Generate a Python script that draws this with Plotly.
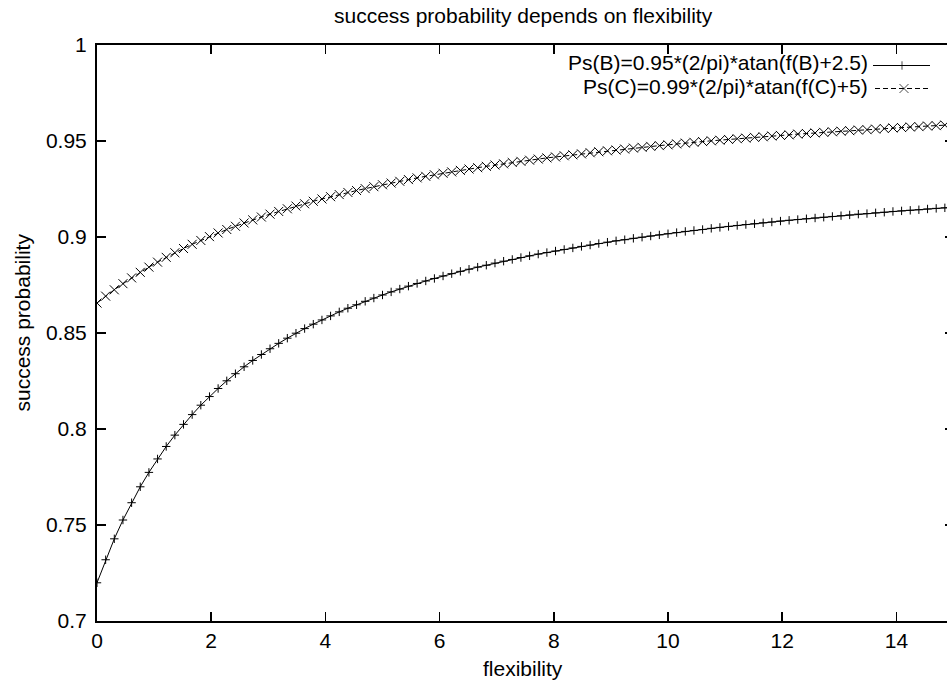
import plotly.graph_objects as go

# ---- data ----
flexibility = [
    0.0, 0.1515, 0.3030, 0.4545, 0.6061, 0.7576, 0.9091, 1.0606, 1.2121, 1.3636,
    1.5152, 1.6667, 1.8182, 1.9697, 2.1212, 2.2727, 2.4242, 2.5758, 2.7273, 2.8788,
    3.0303, 3.1818, 3.3333, 3.4848, 3.6364, 3.7879, 3.9394, 4.0909, 4.2424, 4.3939,
    4.5455, 4.6970, 4.8485, 5.0, 5.1515, 5.3030, 5.4545, 5.6061, 5.7576, 5.9091,
    6.0606, 6.2121, 6.3636, 6.5152, 6.6667, 6.8182, 6.9697, 7.1212, 7.2727, 7.4242,
    7.5758, 7.7273, 7.8788, 8.0303, 8.1818, 8.3333, 8.4848, 8.6364, 8.7879, 8.9394,
    9.0909, 9.2424, 9.3939, 9.5455, 9.6970, 9.8485, 10.0, 10.1515, 10.3030, 10.4545,
    10.6061, 10.7576, 10.9091, 11.0606, 11.2121, 11.3636, 11.5152, 11.6667, 11.8182, 11.9697,
    12.1212, 12.2727, 12.4242, 12.5758, 12.7273, 12.8788, 13.0303, 13.1818, 13.3333, 13.4848,
    13.6364, 13.7879, 13.9394, 14.0909, 14.2424, 14.3939, 14.5455, 14.6970, 14.8485, 15.0,
]

ps_b = [
    0.7199, 0.7319, 0.7428, 0.7526, 0.7616, 0.7699, 0.7774, 0.7844, 0.7909, 0.7968,
    0.8024, 0.8075, 0.8124, 0.8169, 0.8211, 0.8251, 0.8288, 0.8324, 0.8357, 0.8388,
    0.8418, 0.8446, 0.8473, 0.8499, 0.8523, 0.8546, 0.8568, 0.8589, 0.8610, 0.8629,
    0.8647, 0.8665, 0.8682, 0.8698, 0.8714, 0.8729, 0.8744, 0.8758, 0.8771, 0.8784,
    0.8797, 0.8809, 0.8821, 0.8832, 0.8843, 0.8853, 0.8864, 0.8874, 0.8883, 0.8893,
    0.8902, 0.8911, 0.8919, 0.8927, 0.8935, 0.8943, 0.8951, 0.8958, 0.8966, 0.8973,
    0.8980, 0.8986, 0.8993, 0.8999, 0.9005, 0.9011, 0.9017, 0.9023, 0.9029, 0.9034,
    0.9039, 0.9045, 0.9050, 0.9055, 0.9060, 0.9065, 0.9069, 0.9074, 0.9078, 0.9083,
    0.9087, 0.9091, 0.9095, 0.9099, 0.9103, 0.9107, 0.9111, 0.9115, 0.9119, 0.9122,
    0.9126, 0.9129, 0.9133, 0.9136, 0.9139, 0.9142, 0.9146, 0.9149, 0.9152, 0.9155,
]

ps_c = [
    0.8656, 0.8692, 0.8725, 0.8757, 0.8787, 0.8816, 0.8843, 0.8869, 0.8894, 0.8918,
    0.8940, 0.8962, 0.8982, 0.9002, 0.9021, 0.9039, 0.9056, 0.9073, 0.9089, 0.9104,
    0.9119, 0.9133, 0.9147, 0.9161, 0.9173, 0.9186, 0.9198, 0.9210, 0.9221, 0.9232,
    0.9242, 0.9252, 0.9262, 0.9272, 0.9281, 0.9290, 0.9299, 0.9308, 0.9316, 0.9324,
    0.9332, 0.9339, 0.9347, 0.9354, 0.9361, 0.9368, 0.9375, 0.9381, 0.9388, 0.9394,
    0.9400, 0.9406, 0.9412, 0.9417, 0.9423, 0.9428, 0.9433, 0.9439, 0.9444, 0.9449,
    0.9453, 0.9458, 0.9463, 0.9467, 0.9472, 0.9476, 0.9480, 0.9485, 0.9489, 0.9493,
    0.9497, 0.9501, 0.9504, 0.9508, 0.9512, 0.9515, 0.9519, 0.9522, 0.9526, 0.9529,
    0.9532, 0.9536, 0.9539, 0.9542, 0.9545, 0.9548, 0.9551, 0.9554, 0.9557, 0.9559,
    0.9562, 0.9565, 0.9568, 0.9570, 0.9573, 0.9575, 0.9578, 0.9580, 0.9583, 0.9585,
]

series_names = ["Ps(B)=0.95*(2/pi)*atan(f(B)+2.5)", "Ps(C)=0.99*(2/pi)*atan(f(C)+5)"]
x_ticks = [0, 2, 4, 6, 8, 10, 12, 14]
y_ticks = [0.7, 0.75, 0.8, 0.85, 0.9, 0.95, 1.0]
y_tick_labels = ["0.7", "0.75", "0.8", "0.85", "0.9", "0.95", "1"]
title_text = "success probability depends on flexibility"
x_title = "flexibility"
y_title = "success probability"

# ---- styling ----
FONT = "Liberation Sans, Arial, Helvetica, sans-serif"
FS = 21
W, H = 947, 683
ML, MR, MT, MB = 97, 0, 45, 62
PW, PH = W - ML - MR, H - MT - MB
PX_PER_UNIT = 57.1
X_MAX = PW / PX_PER_UNIT


def px_x(p):
    return (p - ML) / PW


def px_y(p):
    return (H - MB - p) / PH


fig = go.Figure()

fig.add_trace(go.Scatter(
    x=flexibility, y=ps_b, mode="lines+markers", name=series_names[0],
    line=dict(color="black", width=1),
    marker=dict(symbol="cross-thin", size=6, line=dict(color="black", width=1), color="black"),
    showlegend=False, hoverinfo="skip",
))
fig.add_trace(go.Scatter(
    x=flexibility, y=ps_c, mode="lines+markers", name=series_names[1],
    line=dict(color="black", width=1, dash="5px,3px"),
    marker=dict(symbol="x-thin", size=9, line=dict(color="black", width=1), color="black"),
    showlegend=False, hoverinfo="skip",
))
# invisible trace to carry the right-hand mirror axis
fig.add_trace(go.Scatter(
    x=flexibility, y=ps_c, yaxis="y2", mode="lines",
    line=dict(width=0, color="rgba(0,0,0,0)"), showlegend=False, hoverinfo="skip",
))

# key samples (drawn on a pixel-scaled overlay axis pair)
key_rows = [65.5, 88.5]
fig.add_trace(go.Scatter(
    x=[873, 902, 930], y=[key_rows[0]] * 3, xaxis="x3", yaxis="y3", mode="lines+markers",
    line=dict(color="black", width=1),
    marker=dict(symbol="cross-thin", size=[0, 6, 0], line=dict(color="black", width=1)),
    showlegend=False, hoverinfo="skip",
))
fig.add_trace(go.Scatter(
    x=[875, 904, 930], y=[key_rows[1]] * 3, xaxis="x3", yaxis="y3", mode="lines+markers",
    line=dict(color="black", width=1, dash="5px,3px"),
    marker=dict(symbol="x-thin", size=[0, 9, 0], line=dict(color="black", width=1)),
    showlegend=False, hoverinfo="skip",
))

axis_common = dict(
    showgrid=False, zeroline=False, showline=True, linecolor="black", linewidth=2,
    ticks="inside", ticklen=9, tickwidth=1.5, tickcolor="black",
    tickfont=dict(family=FONT, size=FS, color="black"),
)

fig.update_layout(
    width=W, height=H,
    margin=dict(l=ML, r=MR, t=MT, b=MB, pad=0),
    paper_bgcolor="white", plot_bgcolor="white",
    font=dict(family=FONT, size=FS, color="black"),
    xaxis=dict(range=[0, X_MAX], tickvals=x_ticks, mirror="ticks", **axis_common),
    yaxis=dict(range=[0.7, 1.0], tickvals=y_ticks, ticktext=y_tick_labels, mirror=False,
               ticklabelstandoff=4, **axis_common),
    yaxis2=dict(range=[0.7, 1.0], overlaying="y", side="right", anchor="x",
                tickvals=y_ticks, ticks="inside", ticklen=2, tickwidth=1.5, tickcolor="black",
                showticklabels=False, showline=False, showgrid=False, zeroline=False),
    xaxis3=dict(range=[ML, W], overlaying="x", visible=False),
    yaxis3=dict(range=[H - MB, MT], overlaying="y", anchor="x3", visible=False),
    showlegend=False,
)

annotations = [
    dict(text=title_text, x=px_x(523), y=px_y(15.4), xref="paper", yref="paper",
         xanchor="center", yanchor="middle", showarrow=False, font=dict(size=FS)),
    dict(text=x_title, x=px_x(523), y=px_y(668.7), xref="paper", yref="paper",
         xanchor="center", yanchor="middle", showarrow=False, font=dict(size=FS)),
    dict(text=y_title, x=px_x(21.5), y=px_y(323), xref="paper", yref="paper",
         xanchor="center", yanchor="middle", textangle=-90, showarrow=False, font=dict(size=FS)),
    dict(text=series_names[0], x=px_x(870), y=px_y(62.7), xref="paper", yref="paper",
         xanchor="right", yanchor="middle", showarrow=False, font=dict(size=FS)),
    dict(text=series_names[1], x=px_x(870), y=px_y(86), xref="paper", yref="paper",
         xanchor="right", yanchor="middle", showarrow=False, font=dict(size=FS)),
]
fig.update_layout(annotations=annotations)

fig.write_html(
    "out.html",
    config={"displayModeBar": False, "staticPlot": True},
    post_script="document.body.style.margin='0';document.body.style.overflow='hidden';",
)
